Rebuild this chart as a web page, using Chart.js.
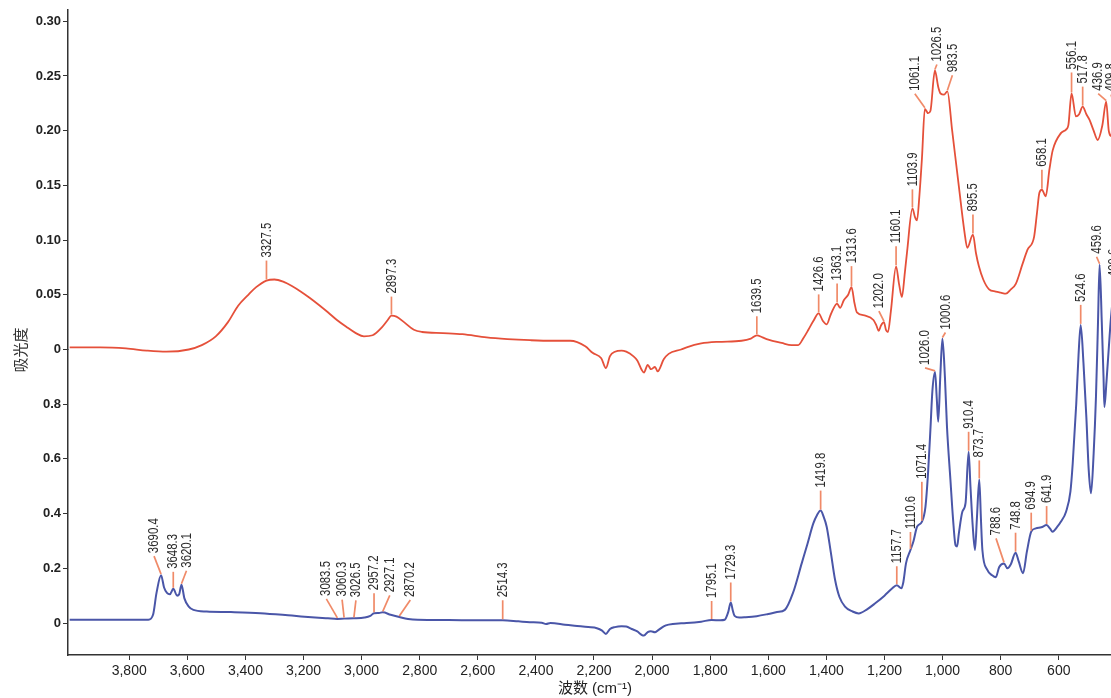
<!DOCTYPE html>
<html>
<head>
<meta charset="utf-8">
<script src="https://cdn.jsdelivr.net/npm/chart.js@4.4.1/dist/chart.umd.min.js"></script>
<style>
  html, body { margin: 0; padding: 0; background: #fff; overflow: hidden; }
  #wrap { position: relative; width: 1125px; height: 698px; }
</style>
</head>
<body>
<div id="wrap"><canvas id="ir"></canvas></div>
<script>
// Upper spectrum (absorbance 0 – 0.30)
const redWavenumber = [
  4005, 3900, 3811, 3740, 3672, 3595, 3550, 3502, 3460, 3425, 3390, 3363, 3327.5, 3300, 3270, 3240,
  3210, 3178, 3116, 3085, 3054, 3020, 2992, 2962, 2931, 2910, 2897.3, 2880, 2854, 2820, 2792, 2720,
  2653, 2570, 2498, 2420, 2344, 2282, 2230, 2205, 2175, 2159, 2145, 2128, 2105, 2089, 2065, 2051,
  2035, 2028, 2015, 2004, 1990, 1981, 1960, 1943, 1900, 1881, 1831, 1773, 1692, 1660, 1639.5, 1620,
  1600, 1554, 1520, 1497, 1480, 1462, 1445, 1426.6, 1412, 1399, 1385, 1363.1, 1353, 1340, 1325, 1313.6,
  1303, 1295, 1266, 1238, 1228, 1220, 1212, 1202.0, 1195, 1188, 1178, 1160.1, 1150, 1140, 1130, 1122,
  1103.9, 1095, 1088, 1080, 1071, 1061.1, 1050, 1042, 1026.5, 1015, 1007, 995, 983.5, 967, 944, 925,
  915, 895.5, 885, 875, 860, 840, 817, 800, 782, 765, 748, 725, 708, 685, 675, 667,
  658.1, 645, 632, 621, 592, 575, 567, 556.1, 541, 530, 517.8, 505, 494.5, 480, 466, 450,
  436.9, 428, 420, 409.8, 400, 390
];
const redAbsorbance = [
  0.002, 0.002, 0.001, -0.001, -0.002, 0.000, 0.004, 0.012, 0.025, 0.040, 0.050, 0.057, 0.063, 0.064, 0.062, 0.058,
  0.053, 0.047, 0.034, 0.027, 0.021, 0.015, 0.012, 0.013, 0.020, 0.027, 0.031, 0.030, 0.025, 0.018, 0.016, 0.015,
  0.014, 0.011, 0.0095, 0.0085, 0.008, 0.008, 0.003, -0.003, -0.008, -0.017, -0.006, -0.002, -0.001, -0.002, -0.006, -0.010,
  -0.019, -0.021, -0.014, -0.018, -0.016, -0.020, -0.009, -0.004, 0.000, 0.002, 0.0055, 0.007, 0.008, 0.010, 0.013, 0.011,
  0.009, 0.006, 0.004, 0.004, 0.010, 0.018, 0.026, 0.033, 0.026, 0.023, 0.032, 0.042, 0.038, 0.045, 0.050, 0.057,
  0.042, 0.034, 0.031, 0.027, 0.022, 0.017, 0.022, 0.025, 0.018, 0.016, 0.035, 0.076, 0.060, 0.048, 0.070, 0.090,
  0.129, 0.121, 0.118, 0.140, 0.175, 0.220, 0.216, 0.218, 0.255, 0.240, 0.234, 0.233, 0.236, 0.200, 0.149, 0.108,
  0.093, 0.105, 0.088, 0.076, 0.064, 0.055, 0.053, 0.052, 0.051, 0.055, 0.060, 0.078, 0.091, 0.103, 0.125, 0.143,
  0.146, 0.140, 0.165, 0.182, 0.198, 0.201, 0.205, 0.234, 0.213, 0.215, 0.222, 0.215, 0.210, 0.200, 0.1915, 0.205,
  0.2265, 0.200, 0.195, 0.222, 0.205, 0.195
];
const redPeaks = [3327.5, 2897.3, 1639.5, 1426.6, 1363.1, 1313.6, 1202.0, 1160.1, 1103.9, 1061.1, 1026.5, 983.5, 895.5, 658.1, 556.1, 517.8, 436.9, 409.8];

// Lower spectrum (absorbance 0 – 0.8)
const blueWavenumber = [
  4005, 3900, 3800, 3734, 3718, 3706, 3690.4, 3680, 3670, 3660, 3648.3, 3635, 3628, 3620.1, 3610, 3595,
  3579, 3533, 3450, 3348, 3240, 3160, 3116, 3083.5, 3060.3, 3026.5, 2990, 2970, 2957.2, 2940, 2927.1, 2900,
  2870.2, 2840, 2807, 2700, 2600, 2514.3, 2460, 2421, 2380, 2365, 2350, 2300, 2267, 2220, 2190, 2172,
  2159, 2145, 2128, 2105, 2089, 2070, 2051, 2035, 2028, 2015, 2004, 1990, 1981, 1960, 1943, 1900,
  1881, 1831, 1795.1, 1765, 1750, 1738, 1729.3, 1722, 1716, 1700, 1681, 1640, 1600, 1570, 1543, 1515,
  1485, 1465, 1445, 1432, 1419.8, 1410, 1399, 1385, 1370, 1355, 1336, 1310, 1289, 1260, 1232, 1200,
  1175, 1157.7, 1142, 1135, 1126, 1110.6, 1100, 1088, 1071.4, 1059, 1050, 1042, 1035, 1026.0, 1020, 1015,
  1008, 1000.6, 992, 985, 973, 964, 955.5, 950, 944, 932, 921, 910.4, 904, 896, 888.5, 882,
  873.7, 868, 863, 846, 830, 817, 805, 788.6, 777, 765, 748.8, 738, 723, 710, 694.9, 679,
  660, 641.9, 630, 621.5, 605, 593, 575, 560, 552, 540, 532, 524.6, 515, 505, 497, 489,
  480, 472, 465, 459.6, 452, 446, 443, 436, 425, 420, 409.6, 400, 390
];
const blueAbsorbance = [
  0.012, 0.012, 0.012, 0.012, 0.030, 0.110, 0.175, 0.130, 0.110, 0.105, 0.125, 0.100, 0.105, 0.140, 0.090, 0.060,
  0.048, 0.042, 0.040, 0.036, 0.027, 0.020, 0.017, 0.015, 0.016, 0.017, 0.020, 0.026, 0.036, 0.037, 0.039, 0.030,
  0.022, 0.015, 0.012, 0.011, 0.010, 0.010, 0.006, 0.003, 0.001, -0.004, 0.000, -0.006, -0.010, -0.015, -0.019, -0.028,
  -0.040, -0.022, -0.015, -0.012, -0.013, -0.022, -0.031, -0.044, -0.046, -0.033, -0.030, -0.034, -0.028, -0.012, -0.006, -0.001,
  0.000, 0.005, 0.011, 0.010, 0.012, 0.040, 0.075, 0.045, 0.026, 0.020, 0.021, 0.025, 0.033, 0.040, 0.048, 0.110,
  0.218, 0.290, 0.364, 0.395, 0.411, 0.390, 0.352, 0.260, 0.157, 0.095, 0.060, 0.042, 0.035, 0.050, 0.072, 0.100,
  0.125, 0.138, 0.127, 0.150, 0.218, 0.267, 0.300, 0.352, 0.370, 0.425, 0.550, 0.706, 0.850, 0.918, 0.820, 0.736,
  0.900, 1.040, 0.900, 0.720, 0.523, 0.380, 0.285, 0.280, 0.328, 0.407, 0.438, 0.626, 0.498, 0.350, 0.267, 0.380,
  0.525, 0.380, 0.267, 0.194, 0.175, 0.167, 0.205, 0.218, 0.200, 0.215, 0.257, 0.225, 0.182, 0.260, 0.334, 0.346,
  0.350, 0.358, 0.345, 0.334, 0.352, 0.370, 0.407, 0.480, 0.584, 0.800, 0.980, 1.090, 0.950, 0.750, 0.560, 0.474,
  0.620, 0.827, 1.100, 1.310, 1.100, 0.900, 0.790, 0.880, 1.050, 1.120, 1.210, 1.100, 1.000
];
const bluePeaks = [3690.4, 3648.3, 3620.1, 3083.5, 3060.3, 3026.5, 2957.2, 2927.1, 2870.2, 2514.3, 1795.1, 1729.3, 1419.8, 1157.7, 1110.6, 1071.4, 1026.0, 1000.6, 910.4, 873.7, 788.6, 748.8, 694.9, 641.9, 524.6, 459.6, 409.6];

// Axis ticks
const xTickValues = [3800, 3600, 3400, 3200, 3000, 2800, 2600, 2400, 2200, 2000, 1800, 1600, 1400, 1200, 1000, 800, 600];
const xTickLabels = ['3,800', '3,600', '3,400', '3,200', '3,000', '2,800', '2,600', '2,400', '2,200', '2,000', '1,800', '1,600', '1,400', '1,200', '1,000', '800', '600'];
const redTickValues = [0, 0.05, 0.10, 0.15, 0.20, 0.25, 0.30];
const redTickLabels = ['0', '0.05', '0.10', '0.15', '0.20', '0.25', '0.30'];
const blueTickValues = [0, 0.2, 0.4, 0.6, 0.8];
const blueTickLabels = ['0', '0.2', '0.4', '0.6', '0.8'];

// Label placement for each peak: [horizontal shift of the label, leader rise] in px
const redPeakLayout = [
  [0, 20], [0, 19], [0, 19], [0, 19], [0, 20], [0, 21], [-5, 11], [0, 20], [0, 19],
  [-10, 15], [2, 6], [5, 16], [0, 20], [0, 20], [0, 21], [0, 20], [-8, 8], [-3, 12]
];
const bluePeakLayout = [
  [-7, 19], [0, 17], [5, 14], [-11, 20], [-2, 19], [2, 18], [0, 20], [7, 17], [11, 17],
  [0, 20], [0, 19], [0, 20], [0, 20], [0, 19], [0, 18], [0, 40], [-10, 4], [3, 6],
  [0, 20], [0, 19], [-8, 25], [0, 20], [0, 19], [0, 19], [0, 20], [-3, 8], [0, 12]
];

const AXIS_COLOR = '#333';
const TEXT_COLOR = '#222';
const SANS = '"Liberation Sans", Arial, sans-serif';

const toPoints = (wn, ab) => wn.map((w, i) => ({ x: w, y: ab[i] }));
const pick = (values, labels) => (v) => {
  const i = values.findIndex(t => Math.abs(t - v) < 1e-9);
  return i < 0 ? '' : labels[i];
};

function yScale(stackWeight, min, max, tickValues, tickLabels) {
  return {
    type: 'linear',
    position: 'left',
    stack: 'absorbance',
    stackWeight: stackWeight,
    min: min,
    max: max,
    afterBuildTicks: s => { s.ticks = tickValues.map(v => ({ value: v })); },
    afterFit: s => { s.width = 68; },
    ticks: {
      autoSkip: false,
      padding: 2,
      color: TEXT_COLOR,
      font: { family: SANS, size: 13, weight: 'bold' },
      callback: pick(tickValues, tickLabels)
    },
    grid: { display: true, drawOnChartArea: false, drawTicks: true, tickLength: 5, color: AXIS_COLOR, lineWidth: 1 },
    border: { display: true, color: AXIS_COLOR, width: 1.5 }
  };
}

// Rotated wavenumber labels with leader lines above the marked peaks
const peakLabels = {
  id: 'peakLabels',
  afterDatasetsDraw(chart, args, opts) {
    const ctx = chart.ctx;
    const xs = chart.scales.x;
    ctx.save();
    for (const g of opts.groups) {
      const ys = chart.scales[g.axis];
      g.peaks.forEach((wn, i) => {
        const k = g.wn.indexOf(wn);
        if (k < 0) return;
        const px = xs.getPixelForValue(wn);
        const py = ys.getPixelForValue(g.ab[k]);
        const [dx, rise] = g.layout[i];
        const tx = px + dx, ty = py - rise;
        ctx.strokeStyle = opts.leaderColor;
        ctx.lineWidth = 1.7;
        ctx.beginPath();
        ctx.moveTo(px, py - 1);
        ctx.lineTo(tx, ty);
        ctx.stroke();
        ctx.save();
        ctx.translate(tx, ty - 3);
        ctx.rotate(-Math.PI / 2);
        ctx.scale(opts.narrow, 1);
        ctx.font = opts.font;
        ctx.fillStyle = opts.color;
        ctx.textAlign = 'left';
        ctx.textBaseline = 'middle';
        ctx.fillText(wn.toFixed(1), 0, 0);
        ctx.restore();
      });
    }
    ctx.restore();
  }
};

const sideTitle = {
  id: 'sideTitle',
  afterDraw(chart, args, opts) {
    const ctx = chart.ctx;
    ctx.save();
    ctx.translate(opts.x, opts.y);
    ctx.rotate(-Math.PI / 2);
    ctx.font = opts.font;
    ctx.fillStyle = opts.color;
    ctx.textAlign = 'center';
    ctx.textBaseline = 'middle';
    ctx.fillText(opts.text, 0, 0);
    ctx.restore();
  }
};

new Chart(document.getElementById('ir'), {
  type: 'line',
  data: {
    datasets: [
      {
        label: 'upper',
        data: toPoints(redWavenumber, redAbsorbance),
        yAxisID: 'yRed',
        borderColor: '#e5503a',
        borderWidth: 1.8,
        pointRadius: 0,
        fill: false,
        clip: false,
        cubicInterpolationMode: 'monotone'
      },
      {
        label: 'lower',
        data: toPoints(blueWavenumber, blueAbsorbance),
        yAxisID: 'yBlue',
        borderColor: '#4a56a8',
        borderWidth: 2,
        pointRadius: 0,
        fill: false,
        clip: false,
        cubicInterpolationMode: 'monotone'
      }
    ]
  },
  options: {
    responsive: true,
    maintainAspectRatio: false,
    animation: false,
    devicePixelRatio: 1,
    layout: { padding: { top: 10, right: 3, left: 0, bottom: 0 } },
    scales: {
      x: {
        type: 'linear',
        reverse: true,
        min: 382.4,
        max: 4010.7,
        afterBuildTicks: s => { s.ticks = xTickValues.map(v => ({ value: v })); },
        afterFit: s => { s.height = 43; },
        ticks: {
          autoSkip: false,
          maxRotation: 0,
          padding: 3,
          color: TEXT_COLOR,
          font: { family: SANS, size: 14 },
          callback: pick(xTickValues, xTickLabels)
        },
        grid: { display: true, drawOnChartArea: false, drawTicks: true, tickLength: 5, color: AXIS_COLOR, lineWidth: 1 },
        border: { display: true, color: AXIS_COLOR, width: 1.5 },
        title: {
          display: true,
          text: '波数 (cm⁻¹)',
          color: TEXT_COLOR,
          font: { family: SANS + ', "Noto Sans CJK SC"', size: 15 },
          padding: { top: 0, bottom: 0 }
        }
      },
      // stacked axes are laid out bottom-up in definition order
      yBlue: yScale(305.5, -0.117, 1.0, blueTickValues, blueTickLabels),
      yRed: yScale(339.5, 0, 0.3103, redTickValues, redTickLabels)
    },
    plugins: {
      legend: { display: false },
      tooltip: { enabled: false },
      peakLabels: {
        leaderColor: '#f08a68',
        color: '#2a2a2a',
        font: '15px "Liberation Sans", Arial, sans-serif',
        narrow: 0.76,
        groups: [
          { axis: 'yRed', wn: redWavenumber, ab: redAbsorbance, peaks: redPeaks, layout: redPeakLayout },
          { axis: 'yBlue', wn: blueWavenumber, ab: blueAbsorbance, peaks: bluePeaks, layout: bluePeakLayout }
        ]
      },
      sideTitle: { text: '吸光度', x: 20, y: 350, color: '#333', font: '15px "Noto Sans CJK SC", sans-serif' }
    }
  },
  plugins: [peakLabels, sideTitle]
});
</script>
</body>
</html>
